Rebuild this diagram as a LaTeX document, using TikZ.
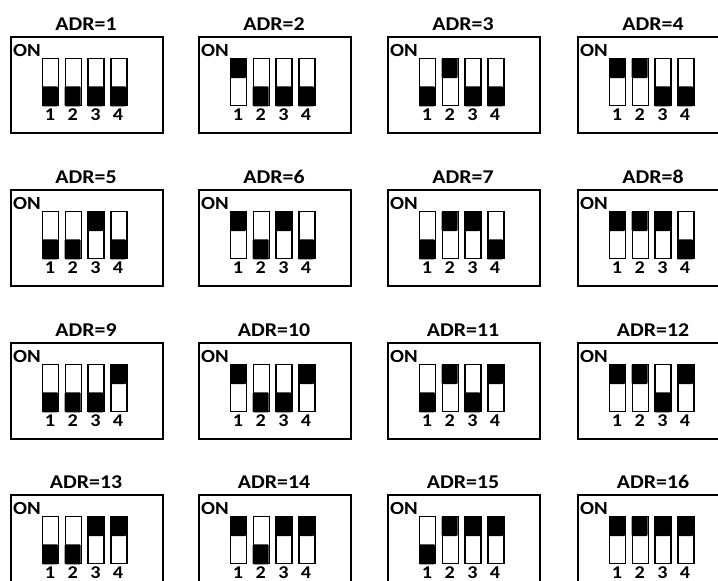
\documentclass[tikz,border=0pt]{standalone}
\usepackage{fontspec}
\setmainfont{Carlito}[FakeStretch=1.12]
\begin{document}
\begin{tikzpicture}[x=1pt,y=-1pt,
  panel/.style={draw,line width=1.5pt,minimum width=152pt,minimum height=96pt,inner sep=0pt,anchor=north west},
  swbox/.style={draw,line width=1.4pt,minimum width=16pt,minimum height=47pt,inner sep=0pt,anchor=north west},
  title/.style={font=\fontsize{19.5}{21}\selectfont\bfseries,inner sep=0pt,anchor=base},
  onlbl/.style={font=\fontsize{18.5}{20}\selectfont\bfseries,inner sep=0pt,anchor=base west},
  digit/.style={font=\fontsize{18}{20}\selectfont\bfseries,inner sep=0pt,anchor=base}]
\useasboundingbox (0,0) rectangle (718,581);
\clip (0,0) rectangle (718,581);
\foreach \n in {1,...,16}{
  \pgfmathtruncatemacro\v{\n-1}
  \pgfmathtruncatemacro\c{mod(\v,4)}
  \pgfmathtruncatemacro\r{floor(\v/4)}
  \pgfmathsetmacro\bx{{10,198,387,577}[\c]}
  \pgfmathsetmacro\by{{36,189,342,494}[\r]}
  \node[panel] (box\n) at (\bx,\by) {};
  \node[title] (t\n) at (\bx+76,\by-6) {ADR=\n};
  \node[onlbl] (on\n) at (\bx+3,\by+20) {ON};
  \foreach \i in {0,...,3}{
    \pgfmathtruncatemacro\b{mod(floor(\v/(2^\i)),2)}
    \pgfmathsetmacro\sx{\bx+32+\i*22.7}
    \node[swbox] (s\n-\i) at (\sx,\by+22) {};
    \ifnum\b=1
      \fill[rounded corners=1pt] (s\n-\i.north west) rectangle ++(16,20);
    \else
      \fill[rounded corners=1pt] (s\n-\i.south west) rectangle ++(16,-20);
    \fi
    \pgfmathtruncatemacro\k{\i+1}
    \node[digit] (d\n-\i) at (\sx+8,\by+84.5) {\k};
  }
}
\end{tikzpicture}
\end{document}
